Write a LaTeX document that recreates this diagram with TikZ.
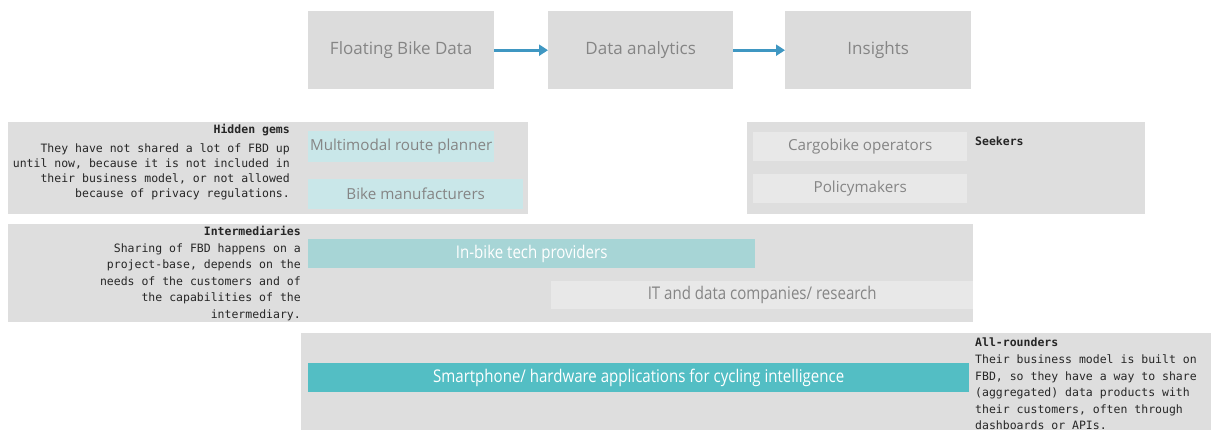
\documentclass[tikz,border=0pt]{standalone}
\usepackage{fontspec}
\setmainfont{Open Sans}
\setmonofont{DejaVu Sans Mono}
\newfontfamily\condfont[FakeStretch=0.86]{Open Sans}
\usetikzlibrary{positioning,arrows.meta}

\definecolor{panelGrey}{HTML}{DEDEDE}
\definecolor{boxGrey}{HTML}{DCDCDC}
\definecolor{paleGrey}{HTML}{E8E8E8}
\definecolor{paleTeal}{HTML}{C9E7E9}
\definecolor{midTeal}{HTML}{A7D5D6}
\definecolor{darkTeal}{HTML}{53BEC4}
\definecolor{flowBlue}{HTML}{3F97C2}
\definecolor{labelGrey}{HTML}{858585}

\tikzset{
  panel/.style={fill=panelGrey, anchor=north west, inner sep=0pt},
  flowbox/.style={fill=boxGrey, anchor=north west, inner sep=0pt, minimum width=186pt,
    minimum height=78pt, text=labelGrey, font=\fontsize{17}{20}\selectfont},
  actor/.style={anchor=north west, inner sep=0pt, text=labelGrey, font=\fontsize{15.2}{18}\selectfont},
  bar/.style={actor, font=\condfont\fontsize{17.5}{20}\selectfont},
  note/.style={inner sep=0pt, font=\ttfamily\fontsize{11.5}{16.6}\selectfont, text=black!85}
}

\begin{document}
\begin{tikzpicture}[x=1pt, y=-1pt, >={Triangle[length=9pt,width=11pt]}]
  \useasboundingbox (0,0) rectangle (1211,430);

  % data chain
  \node[flowbox] (fbd) at (308,11) {Floating Bike Data};
  \node[flowbox, minimum width=185pt] (analytics) at (548,11) {Data analytics};
  \node[flowbox] (insights) at (785,11) {Insights};
  \draw[->, flowBlue, line width=3pt] (fbd) -- (analytics);
  \draw[->, flowBlue, line width=3pt] (analytics) -- (insights);

  % panels
  \node[panel, minimum width=520pt, minimum height=92pt] (hiddenGems) at (8,122) {};
  \node[panel, minimum width=398pt, minimum height=92pt] (seekers) at (747,122) {};
  \node[panel, minimum width=965pt, minimum height=98pt] (intermediaries) at (8,224) {};
  \node[panel, minimum width=910pt, minimum height=100pt] (allRounders) at (301,333) {};

  % hidden gems
  \node[actor, fill=paleTeal, minimum width=186pt, minimum height=31pt] (routePlanner) at (308,131) {Multimodal route planner};
  \node[actor, fill=paleTeal, minimum width=215pt, minimum height=30pt] (bikeMakers) at (308,179) {Bike manufacturers};
  \node[note, anchor=north east, align=right, font=\ttfamily\fontsize{11.5}{15}\selectfont] (hiddenText) at (290,124)
    {\textbf{Hidden gems}\\[4pt]
     They have not shared a lot of FBD up\\
     until now, because it is not included in\\
     their business model, or not allowed\\
     because of privacy regulations.};

  % seekers
  \node[actor, fill=paleGrey, minimum width=214pt, minimum height=29pt] (cargoBikes) at (753,132) {Cargobike operators};
  \node[actor, fill=paleGrey, minimum width=214pt, minimum height=29pt] (policyMakers) at (753,174) {Policymakers};
  \node[note, anchor=west] (seekersText) at (975,141) {\textbf{Seekers}};

  % intermediaries
  \node[bar, fill=midTeal, text=white, minimum width=447pt, minimum height=29pt] (inBike) at (308,239) {In-bike tech providers};
  \node[bar, fill=paleGrey, minimum width=422pt, minimum height=28pt] (itData) at (551,281) {IT and data companies/ research};
  \node[note, anchor=north east, align=right] (intermText) at (301,226)
    {\textbf{Intermediaries}\\
     Sharing of FBD happens on a\\
     project-base, depends on the\\
     needs of the customers and of\\
     the capabilities of the\\
     intermediary.};

  % all-rounders
  \node[bar, fill=darkTeal, text=white, minimum width=661pt, minimum height=29pt] (smartphone) at (308,363) {Smartphone/ hardware applications for cycling intelligence};
  \node[note, anchor=north west, align=left] (allText) at (975,338)
    {\textbf{All-rounders}\\
     Their business model is built on\\
     FBD, so they have a way to share\\
     (aggregated) data products with\\
     their customers, often through\\
     dashboards or APIs.};
\end{tikzpicture}
\end{document}
